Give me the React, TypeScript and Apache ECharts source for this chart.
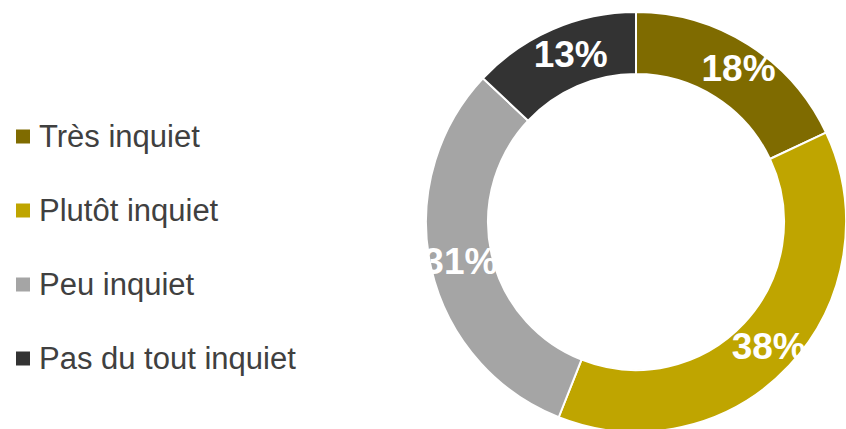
import React, { useEffect, useRef } from "react";
import * as echarts from "echarts";

const categories = ["Très inquiet", "Plutôt inquiet", "Peu inquiet", "Pas du tout inquiet"];
const values = [18, 38, 31, 13];
const colors = ["#7F6B00", "#BFA500", "#A5A5A5", "#333333"];
const labelOffsets = [[5, 0], [0, 0], [2, 0], [7, 0]];

export default function App() {
  const ref = useRef<HTMLDivElement>(null);
  useEffect(() => {
    const chart = echarts.init(ref.current!, null, { renderer: "svg" });
    chart.setOption({
      animation: false,
      backgroundColor: "#ffffff",
      legend: {
        orient: "vertical",
        left: 11,
        top: 116,
        itemWidth: 14,
        itemHeight: 14,
        itemGap: 43,
        icon: "rect",
        itemStyle: { borderWidth: 0 },
        data: categories,
        textStyle: {
          fontFamily: "Liberation Sans, Arial, sans-serif",
          fontSize: 31,
          lineHeight: 31,
          color: "#404040",
          padding: [0, 0, 0, 4],
        },
      },
      series: [
        {
          type: "pie",
          center: [636, 222],
          radius: [148, 210],
          startAngle: 90,
          clockwise: true,
          avoidLabelOverlap: false,
          itemStyle: { borderColor: "#ffffff", borderWidth: 2 },
          label: {
            show: true,
            position: "inside",
            formatter: "{c}%",
            color: "#ffffff",
            fontSize: 37,
            fontWeight: "bold",
            fontFamily: "Liberation Sans, Arial, sans-serif",
          },
          labelLine: { show: false },
          emphasis: { disabled: true },
          data: categories.map((name, i) => ({
            name,
            value: values[i],
            itemStyle: { color: colors[i] },
            label: { offset: labelOffsets[i] },
          })),
        },
      ],
    });
    return () => chart.dispose();
  }, []);
  return (
    <div
      ref={ref}
      style={{ position: "absolute", left: 0, top: 0, width: 846, height: 429 }}
    />
  );
}
